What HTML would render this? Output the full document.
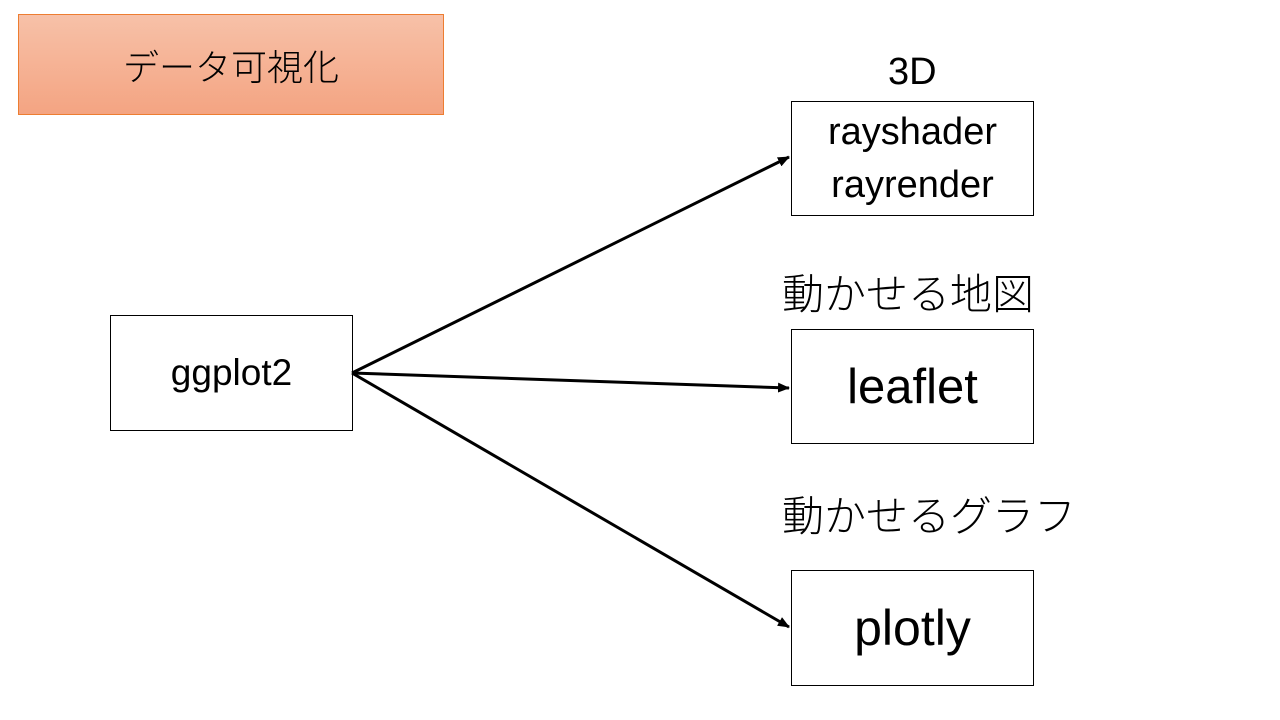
<!DOCTYPE html>
<html><head><meta charset="utf-8"><style>
body{margin:0;width:1280px;height:720px;background:#fff;position:relative;overflow:hidden;font-family:"Liberation Sans","Noto Sans CJK JP",sans-serif;color:#000}
.b{position:absolute;box-sizing:border-box;border:1px solid #000;background:#fff;display:flex;align-items:center;justify-content:center;text-align:center}
.t{position:absolute;white-space:nowrap;line-height:1}
.j{font-weight:300;font-family:"Noto Sans CJK JP",sans-serif}
</style></head><body>
<div class="b j" style="left:18px;top:14px;width:426px;height:101px;border-color:#ed7d31;background:linear-gradient(#f7c1a8,#f4a482);font-size:36px;">データ可視化</div>
<div class="b" style="left:110px;top:315px;width:243px;height:116px;font-size:37px;">ggplot2</div>
<div class="b" style="left:791px;top:101px;width:243px;height:115px;font-size:38px;line-height:1.38">rayshader<br>rayrender</div>
<div class="b" style="left:791px;top:329px;width:243px;height:115px;font-size:49px;">leaflet</div>
<div class="b" style="left:791px;top:570px;width:243px;height:116px;font-size:50px;">plotly</div>
<div class="t" style="left:888px;top:53px;font-size:38px;">3D</div>
<div class="t j" style="left:782px;top:271px;font-size:42px;">動かせる地図</div>
<div class="t j" style="left:782px;top:493px;font-size:42px;">動かせるグラフ</div>
<svg width="1280" height="720" style="position:absolute;left:0;top:0">
<defs><marker id="a" markerWidth="12" markerHeight="10" refX="11" refY="5" orient="auto" markerUnits="userSpaceOnUse"><path d="M0,0 L12,5 L0,10z" fill="#000"/></marker></defs>
<g stroke="#000" stroke-width="3" marker-end="url(#a)">
<line x1="352" y1="373" x2="789" y2="157"/>
<line x1="352" y1="373" x2="789" y2="388"/>
<line x1="352" y1="373" x2="789" y2="627"/>
</g></svg>
</body></html>
